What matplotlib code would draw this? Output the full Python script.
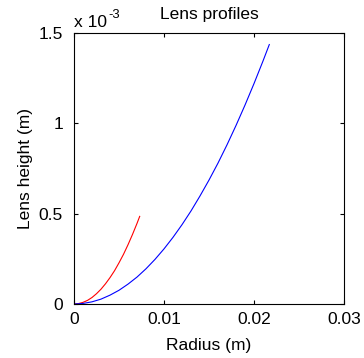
import matplotlib
matplotlib.use("Agg")
import matplotlib.pyplot as plt
from matplotlib.ticker import FuncFormatter

plt.rcParams['font.family'] = ['Liberation Sans', 'DejaVu Sans']

# lens profiles: radius (m) vs. height (m)
radius_small = [0, 0.0005, 0.001, 0.0015, 0.002, 0.0025, 0.003, 0.0035,
                0.004, 0.0045, 0.005, 0.0055, 0.006, 0.0065, 0.007, 0.0073]
height_small = [0, 0.0023e-3, 0.009e-3, 0.020e-3, 0.036e-3, 0.057e-3,
                0.082e-3, 0.112e-3, 0.146e-3, 0.184e-3, 0.228e-3, 0.275e-3,
                0.328e-3, 0.385e-3, 0.446e-3, 0.485e-3]

radius_large = [0, 0.001, 0.002, 0.003, 0.004, 0.005, 0.006, 0.007, 0.008,
                0.009, 0.010, 0.011, 0.012, 0.013, 0.014, 0.015, 0.016,
                0.017, 0.018, 0.019, 0.020, 0.021, 0.0217]
height_large = [0, 0.003e-3, 0.012e-3, 0.027e-3, 0.049e-3, 0.076e-3,
                0.110e-3, 0.149e-3, 0.195e-3, 0.247e-3, 0.305e-3, 0.369e-3,
                0.439e-3, 0.515e-3, 0.598e-3, 0.686e-3, 0.780e-3, 0.881e-3,
                0.988e-3, 1.101e-3, 1.220e-3, 1.345e-3, 1.436e-3]

xticks = [0, 0.01, 0.02, 0.03]
yticks = [0, 0.5e-3, 1.0e-3, 1.5e-3]

fs = 12.5
fig = plt.figure(figsize=(3.64, 3.58), dpi=100)
ax = fig.add_axes([74 / 364, 54 / 358, 270 / 364, 271 / 358])

ax.plot(radius_small, height_small, color='#ff0000', lw=0.8)
ax.plot(radius_large, height_large, color='#0000ff', lw=0.8)

ax.set_xlim(0, 0.03)
ax.set_ylim(0, 1.5e-3)
ax.set_xticks(xticks)
ax.set_yticks(yticks)
ax.xaxis.set_major_formatter(FuncFormatter(lambda v, p: '%g' % round(v, 4)))
ax.yaxis.set_major_formatter(FuncFormatter(lambda v, p: '%g' % round(v * 1e3, 3)))
ax.tick_params(direction='in', length=3, width=0.8, top=True, right=True,
               labelsize=fs)
ax.tick_params(axis='x', pad=6)
ax.tick_params(axis='y', pad=8)
for s in ax.spines.values():
    s.set_linewidth(0.8)

ax.set_title('Lens profiles', fontsize=fs, pad=10)
ax.set_xlabel('Radius (m)', fontsize=fs, labelpad=7.5)
ax.set_ylabel('Lens height (m)', fontsize=fs, labelpad=4)

# y scale factor drawn above the axis, exponent as a small raised label
base = ax.text(0, 1.012, 'x 10', transform=ax.transAxes, fontsize=fs,
               ha='left', va='bottom')
ax.annotate('-3', xy=(1, 0.55), xycoords=base, fontsize=fs * 0.75,
            ha='left', va='bottom', xytext=(1, 0), textcoords='offset points')

fig.savefig('out.png', dpi=100)
